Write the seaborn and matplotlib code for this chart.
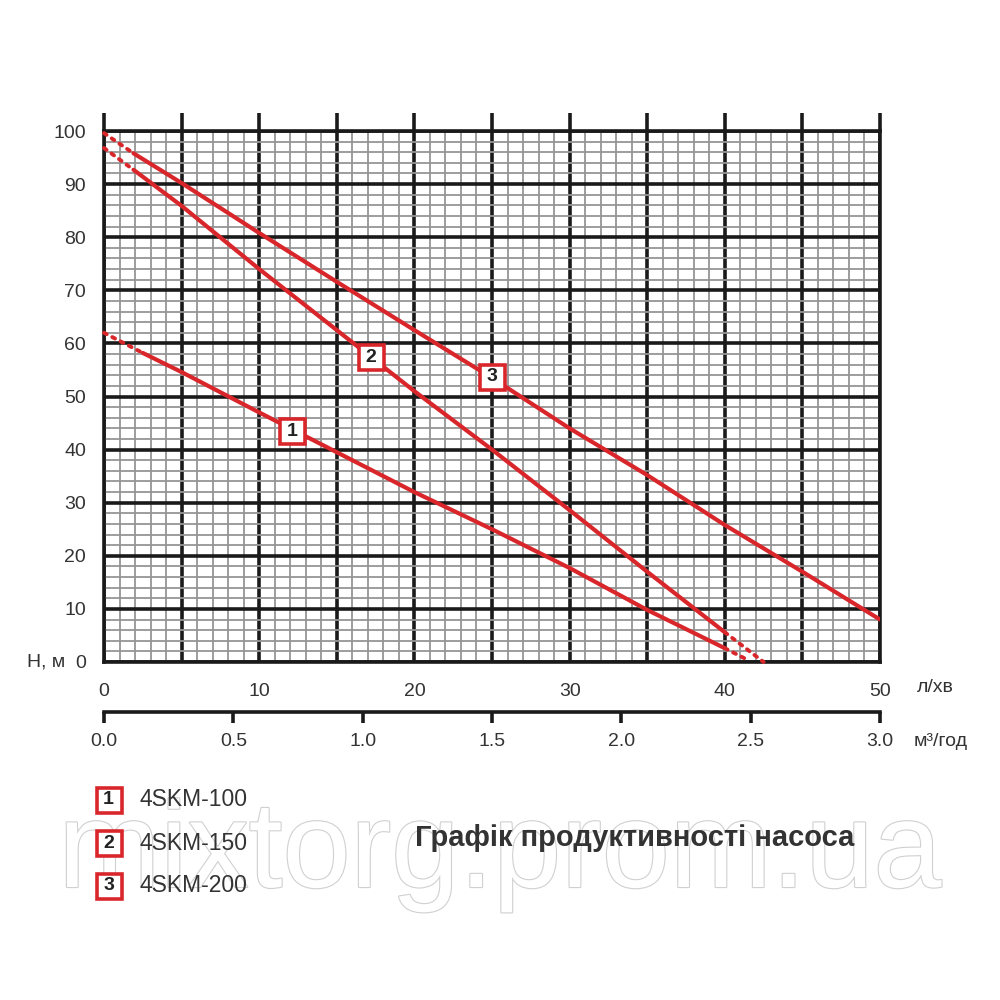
import numpy as np
import pandas as pd
import matplotlib
matplotlib.use("Agg")
import matplotlib.pyplot as plt
import matplotlib.patheffects as pe
from matplotlib.lines import Line2D
import seaborn as sns

# pump curves, flow in l/min, head in m (solid = measured range)
q1 = [2.5, 5, 10, 15, 20, 25, 30, 35, 40]
h1 = [58.2, 54.6, 47.0, 39.5, 32.0, 25.0, 17.7, 9.8, 2.6]
q2 = [1.9, 5, 10, 15, 20, 25, 30, 35, 40]
h2 = [92.7, 85.9, 74.0, 62.5, 51.0, 40.0, 28.6, 17.0, 5.6]
q3 = [1.9, 5, 10, 15, 20, 25, 30, 35, 40, 45, 50]
h3 = [95.8, 90.2, 80.8, 71.6, 62.5, 53.5, 44.0, 35.2, 25.8, 17.0, 8.0]

# dotted extensions (start, end)
q1_dot = [[0, 2.5], [40, 41.4]]
h1_dot = [[62.0, 58.2], [2.6, 0.5]]
q2_dot = [[0, 1.9], [40, 42.5]]
h2_dot = [[96.8, 92.7], [5.6, 0.0]]
q3_dot = [[0, 1.9]]
h3_dot = [[99.6, 95.8]]

models = ["4SKM-100", "4SKM-150", "4SKM-200"]
marks = ["1", "2", "3"]
mark_q = [12.1, 17.2, 25.0]
mark_h = [43.5, 57.4, 53.7]

x_ticks_lpm = [0, 10, 20, 30, 40, 50]
x_ticks_m3h = [0.0, 0.5, 1.0, 1.5, 2.0, 2.5, 3.0]
y_ticks = [0, 10, 20, 30, 40, 50, 60, 70, 80, 90, 100]

RED = "#d9262b"
INK = "#333333"

sns.set_style("white")
plt.rcParams["font.family"] = ["Liberation Sans", "DejaVu Sans"]

fig = plt.figure(figsize=(10, 10), dpi=100)
ax = fig.add_axes([0.104, 0.338, 0.776, 0.531])

df = pd.concat([
    pd.DataFrame({"q": q, "h": h, "model": m})
    for q, h, m in zip([q1, q2, q3], [h1, h2, h3], models)
])
sns.lineplot(data=df, x="q", y="h", hue="model", palette={m: RED for m in models},
             linewidth=3, legend=False, sort=False, estimator=None, ax=ax, zorder=5)

for qs, hs in zip([q1_dot, q2_dot, q3_dot], [h1_dot, h2_dot, h3_dot]):
    for q, h in zip(qs, hs):
        ax.plot(q, h, color=RED, lw=2.8, linestyle=(0, (0.8, 1.6)),
                dash_capstyle="round", zorder=5, clip_on=False)

# square number boxes on the curves
for t, q, h in zip(marks, mark_q, mark_h):
    ax.plot([q], [h], marker="s", ms=18, mfc="white", mec=RED, mew=2.6, zorder=6)
    ax.text(q, h, t, ha="center", va="center", fontsize=14, fontweight="bold",
            color="#222222", zorder=7)

ax.set_xlim(0, 50)
ax.set_ylim(0, 100)
ax.set_xticks(np.arange(0, 51, 5))
ax.set_xticklabels([str(v) if v in x_ticks_lpm else "" for v in range(0, 51, 5)])
ax.set_xticks(np.arange(0, 51, 1), minor=True)
ax.set_yticks(y_ticks)
ax.set_yticks(np.arange(0, 101, 2), minor=True)
ax.grid(which="minor", color="#959595", lw=1.3)
ax.grid(which="major", color="#1a1a1a", lw=2.6)
ax.set_axisbelow(True)
for s in ax.spines.values():
    s.set_linewidth(2.6)
    s.set_color("#1a1a1a")
ax.tick_params(which="minor", length=0)
ax.tick_params(axis="x", which="major", direction="out", length=10, width=2.6,
               color="#1a1a1a", top=True, labelsize=14, labelcolor=INK, pad=5)
ax.tick_params(axis="y", which="major", direction="out", length=10, width=2.2,
               color="#1a1a1a", labelsize=14, labelcolor=INK, pad=3)
ax.set_xlabel("")
ax.set_ylabel("")
# major verticals poke above the top edge
for tk in ax.xaxis.get_major_ticks():
    tk.tick2line.set_markersize(13)

sec = ax.secondary_xaxis(-0.094, functions=(lambda q: q * 0.06, lambda m: m / 0.06))
sec.set_xticks(x_ticks_m3h)
sec.set_xticklabels([f"{v:.1f}" for v in x_ticks_m3h])
sec.spines["bottom"].set_linewidth(2.6)
sec.spines["bottom"].set_color("#1a1a1a")
sec.tick_params(direction="out", length=8, width=2.6, color="#1a1a1a",
                labelsize=14, labelcolor=INK, pad=7)

fig.text(0.046, 0.338, "H, м", ha="center", va="center", fontsize=14, color=INK)
fig.text(0.935, 0.312, "л/хв", ha="center", va="center", fontsize=14, color=INK)
fig.text(0.941, 0.258, "м³/год", ha="center", va="center", fontsize=14, color=INK)

# watermark
fig.text(0.5, 0.145, "mixtorg.prom.ua", ha="center", va="center", fontsize=88,
         color="white", zorder=0,
         path_effects=[pe.withStroke(linewidth=1.6, foreground="#d0d0d0")])

for i, (t, m) in enumerate(zip(marks, models)):
    y = 0.200 - i * 0.043
    fig.add_artist(Line2D([0.1085], [y], transform=fig.transFigure, marker="s", ms=18,
                          mfc="white", mec=RED, mew=2.6, zorder=3))
    fig.text(0.1085, y, t, ha="center", va="center", fontsize=14, fontweight="bold",
             color="#222222", zorder=4)
    fig.text(0.140, y, m, ha="left", va="center", fontsize=16.5, color=INK, zorder=3)

fig.text(0.635, 0.162, "Графік продуктивності насоса", ha="center", va="center",
         fontsize=21, fontweight="bold", color=INK, zorder=3)

fig.savefig("out.png", dpi=100, facecolor="white")
